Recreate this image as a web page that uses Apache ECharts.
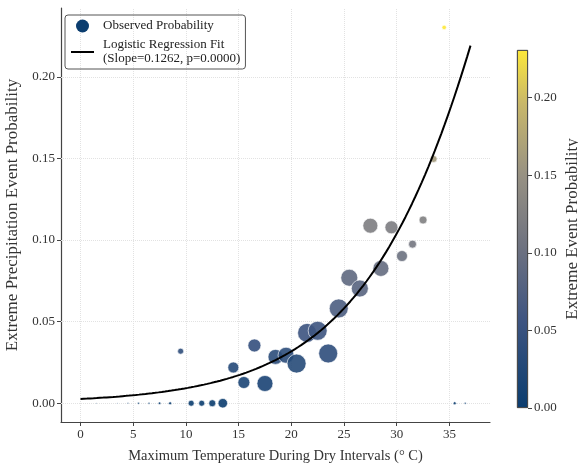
<!DOCTYPE html>
<html>
<head>
<meta charset="utf-8">
<script src="https://cdn.jsdelivr.net/npm/echarts@6/dist/echarts.min.js"></script>
<style>
html, body { margin: 0; padding: 0; background: #fff; }
#main { width: 578px; height: 464px; }
</style>
</head>
<body>
<div id="main"></div>
<script>
// observed bins (temperature centre, probability, marker diameter)
const temps = [1.5, 3.5, 4.5, 5.5, 6.5, 7.5, 8.5, 9.5, 10.5, 11.5, 12.5, 13.5, 14.5, 15.5, 16.5, 17.5, 18.5,
  19.5, 20.5, 21.5, 22.5, 23.5, 24.5, 25.5, 26.5, 27.5, 28.5, 29.5, 30.5, 31.5, 32.5, 33.5, 34.5, 35.5, 36.5];
const probs = [0, 0, 0, 0, 0, 0, 0, 0.0319, 0, 0, 0, 0, 0.0219, 0.0127, 0.0354, 0.0121, 0.0284,
  0.0294, 0.0243, 0.0431, 0.0444, 0.0305, 0.0581, 0.0769, 0.0703, 0.1088, 0.0826, 0.1078, 0.0902, 0.0975, 0.1123, 0.1497, 0.2303, 0, 0];
const sizes = [1, 1, 1.5, 2, 2, 2.5, 3, 6, 6, 6, 7, 9.5, 11, 12, 13, 16, 15,
  16, 19, 19, 19, 19, 19, 17, 17, 15, 16, 13, 11, 8, 8, 7, 4.5, 3, 2];

// logistic fit
const slope = 0.1262;
const intercept = -5.94;
const fitStart = 0, fitEnd = 37;

const xTicks = [0, 5, 10, 15, 20, 25, 30, 35];
const yTicks = [0, 0.05, 0.10, 0.15, 0.20];
const cbTicks = [0, 0.05, 0.10, 0.15, 0.20];
const cbMax = 0.2307;

const cmapStops = [0, 0.25, 0.45, 0.65, 0.85, 1];
const cmapColors = ['#0b3d6f', '#3f5581', '#6e7280', '#979183', '#c8b76a', '#fde83a'];

const font = 'Liberation Serif';
const txt = '#333';

let scatterData = temps.map((t, i) => [t, probs[i], sizes[i]]);
let fitData = [];
for (let i = 0; i <= 120; i++) {
  let x = fitStart + (fitEnd - fitStart) * i / 120;
  fitData.push([x, 1 / (1 + Math.exp(-(intercept + slope * x)))]);
}

let gridMarks = xTicks.map(v => ({ xAxis: v })).concat(yTicks.map(v => ({ yAxis: v })));

let chart = echarts.init(document.getElementById('main'));
let option = {
  backgroundColor: '#fff',
  textStyle: { fontFamily: font, color: txt },
  grid: [
    { left: 61, right: 88, top: 8, bottom: 42, outerBoundsMode: 'none', containLabel: false },
    { left: 517, top: 50, width: 11, height: 358, outerBoundsMode: 'none', containLabel: false }
  ],
  legend: {
    orient: 'vertical',
    left: 65,
    top: 15,
    padding: [4, 5, 3, 5],
    itemGap: 5,
    itemWidth: 23,
    itemHeight: 13,
    borderColor: '#555',
    borderWidth: 1,
    borderRadius: 3,
    textStyle: { fontFamily: font, fontSize: 13, color: '#222', lineHeight: 14, padding: [0, 0, 0, 4] },
    data: [
      { name: 'Observed Probability', icon: 'circle',
        itemStyle: { color: '#0b3d6f', borderWidth: 0, opacity: 1 } },
      { name: 'Logistic Regression Fit\n(Slope=0.1262, p=0.0000)',
        itemStyle: { color: 'rgba(0,0,0,0)', borderColor: 'rgba(0,0,0,0)', borderWidth: 0 },
        lineStyle: { color: '#000', width: 2 } }
    ]
  },
  visualMap: {
    show: false,
    type: 'continuous',
    seriesIndex: 0,
    dimension: 1,
    min: 0,
    max: cbMax,
    inRange: { color: cmapColors }
  },
  xAxis: [
    {
      type: 'value',
      min: -1.85,
      max: 38.85,
      name: 'Maximum Temperature During Dry Intervals (° C)',
      nameLocation: 'middle',
      nameGap: 27,
      nameTextStyle: { fontFamily: font, fontSize: 14.5, color: txt },
      axisLine: { onZero: false, lineStyle: { color: '#444', width: 1.2 } },
      axisTick: { show: true, length: 4, customValues: xTicks, lineStyle: { color: '#444' } },
      axisLabel: { customValues: xTicks, margin: 6, fontSize: 13, color: txt, fontFamily: font },
      splitLine: { show: false }
    },
    {
      type: 'category',
      gridIndex: 1,
      data: [''],
      show: false
    }
  ],
  yAxis: [
    {
      type: 'value',
      min: -0.0115,
      max: 0.2422,
      name: 'Extreme Precipitation Event Probability',
      nameLocation: 'middle',
      nameGap: 27,
      nameTextStyle: { fontFamily: font, fontSize: 17, color: txt },
      axisLine: { show: true, onZero: false, lineStyle: { color: '#444', width: 1.2 } },
      axisTick: { show: true, length: 4, customValues: yTicks, lineStyle: { color: '#444' } },
      axisLabel: { customValues: yTicks, margin: 6, fontSize: 13, color: txt, fontFamily: font,
        formatter: v => v.toFixed(2) },
      splitLine: { show: false }
    },
    {
      type: 'value',
      gridIndex: 1,
      position: 'right',
      min: 0,
      max: cbMax,
      name: 'Extreme Event Probability',
      nameLocation: 'middle',
      nameRotate: 90,
      nameGap: 36,
      nameTextStyle: { fontFamily: font, fontSize: 17, color: txt },
      axisLine: { show: false, onZero: false },
      axisTick: { show: true, length: 4, customValues: cbTicks, lineStyle: { color: '#444' } },
      axisLabel: { customValues: cbTicks, margin: 6, fontSize: 13, color: txt, fontFamily: font,
        formatter: v => v.toFixed(2) },
      splitLine: { show: false }
    }
  ],
  series: [
    {
      name: 'Observed Probability',
      type: 'scatter',
      data: scatterData,
      symbolSize: d => d[2],
      z: 3,
      itemStyle: { opacity: 0.9, borderColor: '#fff', borderWidth: 0.7 }
    },
    {
      name: 'Logistic Regression Fit\n(Slope=0.1262, p=0.0000)',
      type: 'line',
      data: fitData,
      showSymbol: false,
      symbol: 'none',
      color: '#000',
      lineStyle: { color: '#000', width: 2 },
      z: 4
    },
    {
      name: 'grid',
      type: 'line',
      data: [],
      z: 1,
      markLine: {
        silent: true,
        z: 1,
        symbol: 'none',
        label: { show: false },
        animation: false,
        lineStyle: { color: '#e2e2e2', type: 'dotted', width: 1 },
        data: gridMarks
      }
    },
    {
      name: 'colorbar',
      type: 'bar',
      xAxisIndex: 1,
      yAxisIndex: 1,
      data: [cbMax],
      barWidth: '100%',
      silent: true,
      itemStyle: {
        borderColor: '#444',
        borderWidth: 0.8,
        color: new echarts.graphic.LinearGradient(0, 1, 0, 0,
          cmapColors.map((c, i) => ({ offset: cmapStops[i], color: c })))
      }
    }
  ]
};
chart.setOption(option);
</script>
</body>
</html>
